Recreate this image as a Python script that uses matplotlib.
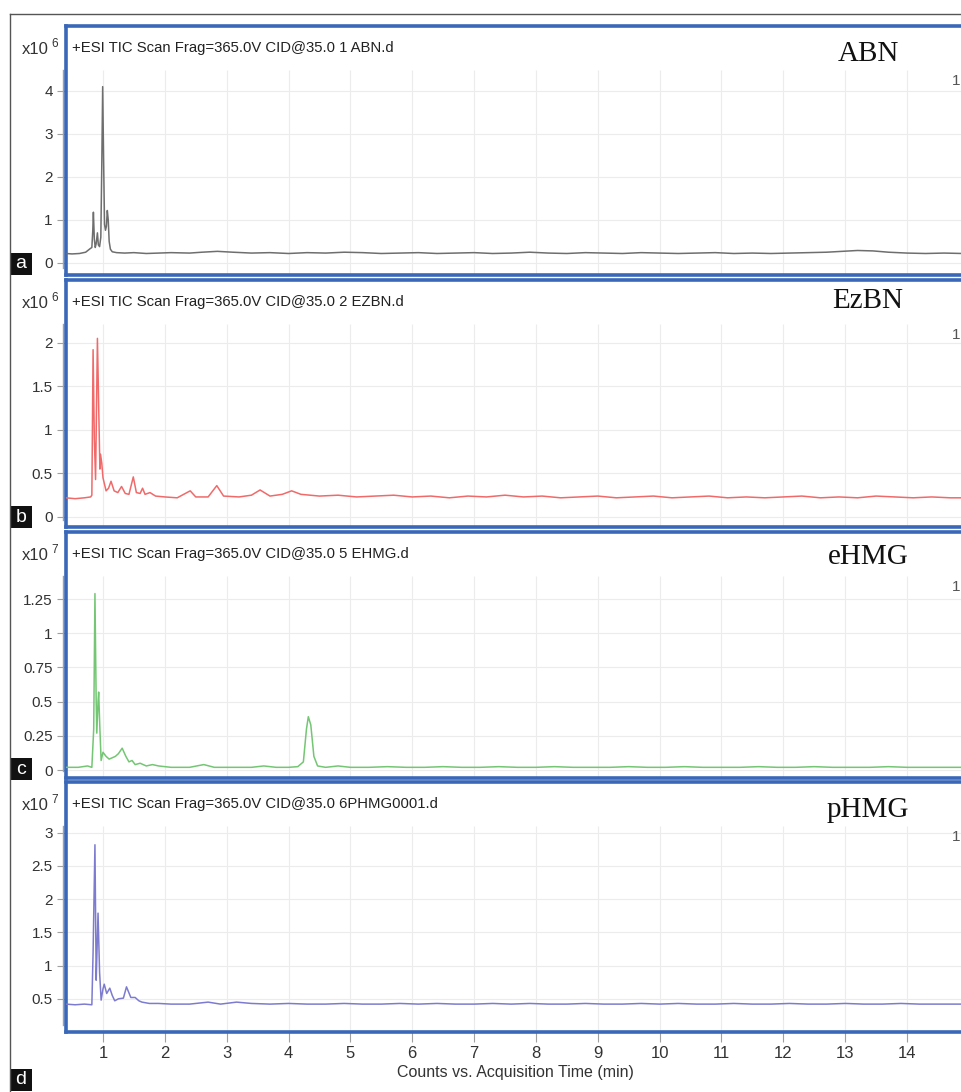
import matplotlib
matplotlib.use("Agg")
import matplotlib.pyplot as plt
from matplotlib import font_manager
from matplotlib.patches import Rectangle
from matplotlib.lines import Line2D

W, H = 961, 1092

# ---- data ----
# a: ABN, counts x10^6
a_time = [0.40, 0.50, 0.62, 0.72, 0.79, 0.82, 0.835, 0.845, 0.86, 0.875,
          0.89, 0.91, 0.925, 0.945, 0.965, 0.98, 0.995, 1.01, 1.025, 1.04,
          1.055, 1.07, 1.085, 1.10, 1.12, 1.15, 1.22, 1.35, 1.50, 1.70,
          1.90, 2.10, 2.40, 2.60, 2.85, 3.10, 3.40, 3.70, 4.00, 4.30,
          4.60, 4.90, 5.20, 5.50, 5.80, 6.10, 6.40, 6.70, 7.00, 7.30,
          7.60, 7.90, 8.20, 8.50, 8.80, 9.10, 9.40, 9.70, 10.0, 10.3,
          10.6, 10.9, 11.2, 11.5, 11.8, 12.1, 12.4, 12.7, 12.95, 13.2,
          13.45, 13.7, 14.0, 14.3, 14.6, 14.9]
a_value = [0.22, 0.21, 0.22, 0.25, 0.33, 0.36, 0.75, 1.18, 0.55, 0.36,
           0.45, 0.70, 0.42, 0.38, 0.60, 2.20, 4.10, 2.40, 0.90, 0.76,
           0.85, 1.22, 1.00, 0.50, 0.32, 0.26, 0.24, 0.23, 0.24, 0.22,
           0.23, 0.24, 0.23, 0.25, 0.27, 0.25, 0.23, 0.24, 0.22, 0.24,
           0.23, 0.25, 0.24, 0.22, 0.23, 0.24, 0.22, 0.23, 0.24, 0.22,
           0.23, 0.25, 0.23, 0.22, 0.24, 0.23, 0.22, 0.24, 0.23, 0.22,
           0.23, 0.24, 0.22, 0.23, 0.22, 0.23, 0.24, 0.25, 0.27, 0.29,
           0.28, 0.25, 0.23, 0.22, 0.23, 0.22]

# b: EzBN, counts x10^6
b_time = [0.40, 0.55, 0.70, 0.80, 0.82, 0.84, 0.86, 0.88, 0.91, 0.935,
          0.95, 0.96, 0.98, 1.00, 1.05, 1.09, 1.13, 1.18, 1.24, 1.30,
          1.36, 1.42, 1.49, 1.54, 1.60, 1.64, 1.68, 1.76, 1.85, 2.00,
          2.20, 2.41, 2.50, 2.70, 2.84, 2.95, 3.20, 3.40, 3.54, 3.70,
          3.90, 4.05, 4.20, 4.50, 4.80, 5.10, 5.40, 5.70, 6.00, 6.30,
          6.60, 6.90, 7.20, 7.50, 7.80, 8.10, 8.40, 8.70, 9.00, 9.30,
          9.60, 9.90, 10.2, 10.5, 10.8, 11.1, 11.4, 11.7, 12.0, 12.3,
          12.6, 12.9, 13.2, 13.5, 13.8, 14.1, 14.4, 14.7, 14.9]
b_value = [0.22, 0.21, 0.22, 0.23, 0.25, 1.92, 0.90, 0.43, 2.05, 1.10,
           0.55, 0.72, 0.62, 0.45, 0.30, 0.33, 0.41, 0.30, 0.28, 0.35,
           0.27, 0.26, 0.46, 0.28, 0.27, 0.33, 0.26, 0.28, 0.24, 0.23,
           0.22, 0.30, 0.23, 0.23, 0.36, 0.24, 0.23, 0.25, 0.31, 0.24,
           0.26, 0.30, 0.26, 0.24, 0.25, 0.23, 0.24, 0.25, 0.23, 0.24,
           0.22, 0.24, 0.23, 0.25, 0.23, 0.24, 0.22, 0.23, 0.24, 0.22,
           0.23, 0.24, 0.22, 0.23, 0.24, 0.22, 0.23, 0.22, 0.23, 0.24,
           0.22, 0.23, 0.22, 0.24, 0.23, 0.22, 0.23, 0.22, 0.22]

# c: eHMG, counts x10^7
c_time = [0.40, 0.60, 0.75, 0.82, 0.85, 0.87, 0.89, 0.90, 0.92, 0.93,
          0.95, 0.97, 1.00, 1.05, 1.10, 1.15, 1.20, 1.25, 1.31, 1.37,
          1.42, 1.47, 1.52, 1.60, 1.70, 1.80, 1.90, 2.10, 2.40, 2.63,
          2.80, 3.10, 3.40, 3.60, 3.80, 4.00, 4.15, 4.24, 4.29, 4.32,
          4.36, 4.41, 4.47, 4.60, 4.80, 5.00, 5.30, 5.60, 5.90, 6.20,
          6.50, 6.80, 7.10, 7.40, 7.70, 8.00, 8.30, 8.60, 8.90, 9.20,
          9.50, 9.80, 10.1, 10.4, 10.7, 11.0, 11.3, 11.6, 11.9, 12.2,
          12.5, 12.8, 13.1, 13.4, 13.7, 14.0, 14.3, 14.6, 14.9]
c_value = [0.02, 0.02, 0.03, 0.02, 0.30, 1.29, 0.50, 0.27, 0.50, 0.57,
           0.30, 0.07, 0.13, 0.10, 0.08, 0.09, 0.10, 0.12, 0.16, 0.10,
           0.06, 0.07, 0.04, 0.05, 0.03, 0.04, 0.03, 0.02, 0.02, 0.04,
           0.02, 0.02, 0.02, 0.03, 0.02, 0.02, 0.025, 0.06, 0.30, 0.39,
           0.33, 0.10, 0.03, 0.02, 0.03, 0.02, 0.02, 0.025, 0.02, 0.02,
           0.025, 0.02, 0.02, 0.025, 0.02, 0.02, 0.025, 0.02, 0.02, 0.02,
           0.025, 0.02, 0.02, 0.025, 0.02, 0.02, 0.02, 0.025, 0.02, 0.02,
           0.025, 0.02, 0.02, 0.02, 0.025, 0.02, 0.02, 0.02, 0.02]

# d: pHMG, counts x10^7
d_time = [0.40, 0.55, 0.70, 0.82, 0.84, 0.87, 0.89, 0.90, 0.92, 0.945,
          0.97, 1.00, 1.02, 1.06, 1.11, 1.15, 1.19, 1.25, 1.33, 1.38,
          1.45, 1.52, 1.58, 1.63, 1.75, 1.90, 2.10, 2.40, 2.70, 2.90,
          3.16, 3.40, 3.70, 4.00, 4.30, 4.60, 4.90, 5.20, 5.50, 5.80,
          6.10, 6.40, 6.70, 7.00, 7.30, 7.60, 7.90, 8.20, 8.50, 8.80,
          9.10, 9.40, 9.70, 10.0, 10.3, 10.6, 10.9, 11.2, 11.5, 11.8,
          12.1, 12.4, 12.7, 13.0, 13.3, 13.6, 13.9, 14.2, 14.5, 14.9]
d_value = [0.42, 0.41, 0.42, 0.41, 1.20, 2.82, 0.78, 1.10, 1.79, 0.90,
           0.48, 0.65, 0.72, 0.58, 0.66, 0.55, 0.47, 0.50, 0.51, 0.68,
           0.52, 0.52, 0.47, 0.45, 0.43, 0.43, 0.42, 0.42, 0.45, 0.42,
           0.45, 0.43, 0.42, 0.43, 0.42, 0.42, 0.43, 0.42, 0.42, 0.43,
           0.42, 0.43, 0.42, 0.42, 0.43, 0.42, 0.43, 0.42, 0.42, 0.43,
           0.42, 0.42, 0.43, 0.42, 0.43, 0.42, 0.42, 0.43, 0.42, 0.42,
           0.43, 0.42, 0.42, 0.43, 0.42, 0.42, 0.43, 0.42, 0.42, 0.42]

files = ["1 ABN.d", "2 EZBN.d", "5 EHMG.d", "6PHMG0001.d"]
samples = ["ABN", "EzBN", "eHMG", "pHMG"]
letters = ["a", "b", "c", "d"]
exponents = ["6", "6", "7", "7"]
yticks = [[0, 1, 2, 3, 4],
          [0, 0.5, 1, 1.5, 2],
          [0, 0.25, 0.5, 0.75, 1, 1.25],
          [0.5, 1, 1.5, 2, 2.5, 3]]
xticks = list(range(1, 15))

# ---- layout (pixel positions of the blue boxes) ----
box_top = [26, 280, 532, 782]
box_bot = [275, 527, 778, 1032]
ylims = [(-0.28, 5.51), (-0.115, 2.72), (-0.058, 1.74), (0.0, 3.765)]
colors = ["#6e6e6e", "#f06a6a", "#74c674", "#7d7bcf"]
letter_top = [253, 506, 758, 1069]
name_y = [54, 301, 557, 810]

names = {f.name for f in font_manager.fontManager.ttflist}
SANS = "Liberation Sans Narrow" if "Liberation Sans Narrow" in names else "Liberation Sans"
SERIF = "Liberation Serif"
BLUE = "#3a68b8"

fig = plt.figure(figsize=(W / 100, H / 100), dpi=100)


def fx(px):
    return px / W


def fy(py):
    return 1 - py / H


series = [(a_time, a_value), (b_time, b_value), (c_time, c_value), (d_time, d_value)]
left_px, right_px = 66, 961
for i, (t, v) in enumerate(series):
    top, bot = box_top[i], box_bot[i]
    ax = fig.add_axes([fx(left_px), fy(bot), (right_px - left_px) / W, (bot - top) / H])
    ax.set_xlim(0.402, 14.873)
    ax.set_ylim(*ylims[i])
    head = 1 - 44 / (bot - top)
    for yt in yticks[i]:
        ax.axhline(yt, color="#ececec", lw=0.8, zorder=0)
    ax.vlines(xticks, 0, head, transform=ax.get_xaxis_transform(), color="#ececec", lw=0.8, zorder=0)
    ax.plot(t, v, color=colors[i], lw=1.1, zorder=3)

    for s in ["left", "top", "bottom"]:
        ax.spines[s].set_color(BLUE)
        ax.spines[s].set_linewidth(2.6)
    ax.spines["right"].set_visible(False)
    # grey y axis line just left of the box
    ax.add_line(Line2D([-3 / (right_px - left_px)] * 2, [0.03, head], transform=ax.transAxes,
                       color="#a0a0a0", lw=1, clip_on=False))

    ax.set_yticks(yticks[i])
    ax.set_yticklabels([f"{y:g}" for y in yticks[i]], family=SANS)
    ax.tick_params(axis="y", direction="out", length=6.5, width=0.8, color="#a0a0a0",
                   labelsize=11, labelcolor="#333333", pad=3)
    ax.set_xticks(xticks)
    if i == 3:
        ax.set_xticklabels([str(x) for x in xticks], family=SANS)
        ax.tick_params(axis="x", direction="out", length=7, width=0.8, color="#a0a0a0",
                       labelsize=12, labelcolor="#333333", pad=3)
    else:
        ax.tick_params(axis="x", length=0, labelbottom=False)

    fig.text(fx(72), fy(top + 22), "+ESI TIC Scan Frag=365.0V CID@35.0 " + files[i],
             family=SANS, fontsize=10.7, color="#222222", va="center", ha="left")
    fig.text(fx(49), fy(top + 24), "x10", family=SANS, fontsize=12, color="#333333",
             va="center", ha="right")
    fig.text(fx(51), fy(top + 18), exponents[i], family=SANS, fontsize=8.5, color="#333333",
             va="center", ha="left")
    fig.text(fx(868), fy(name_y[i]), samples[i], family=SERIF, fontsize=21, color="#111111",
             va="center", ha="center")
    fig.text(fx(952), fy(top + 55), "1", family=SANS, fontsize=11, color="#555555",
             va="center", ha="left")

    # panel letter
    lt = letter_top[i]
    fig.patches.append(Rectangle((fx(10), fy(lt + 22)), 22 / W, 22 / H, transform=fig.transFigure,
                                 facecolor="#111111", edgecolor="none"))
    fig.text(fx(21), fy(lt + 11), letters[i], family="Liberation Sans", fontsize=14,
             color="white", va="center", ha="center")

fig.text(fx(515), fy(1073), "Counts vs. Acquisition Time (min)", family=SANS, fontsize=11.5,
         color="#333333", va="center", ha="center")

# outer frame
fig.add_artist(Line2D([fx(10), 1.0], [fy(14), fy(14)], color="#555555", lw=1))
fig.add_artist(Line2D([fx(10), fx(10)], [fy(14), 0.0], color="#555555", lw=1))

fig.savefig("out.png", dpi=100)
